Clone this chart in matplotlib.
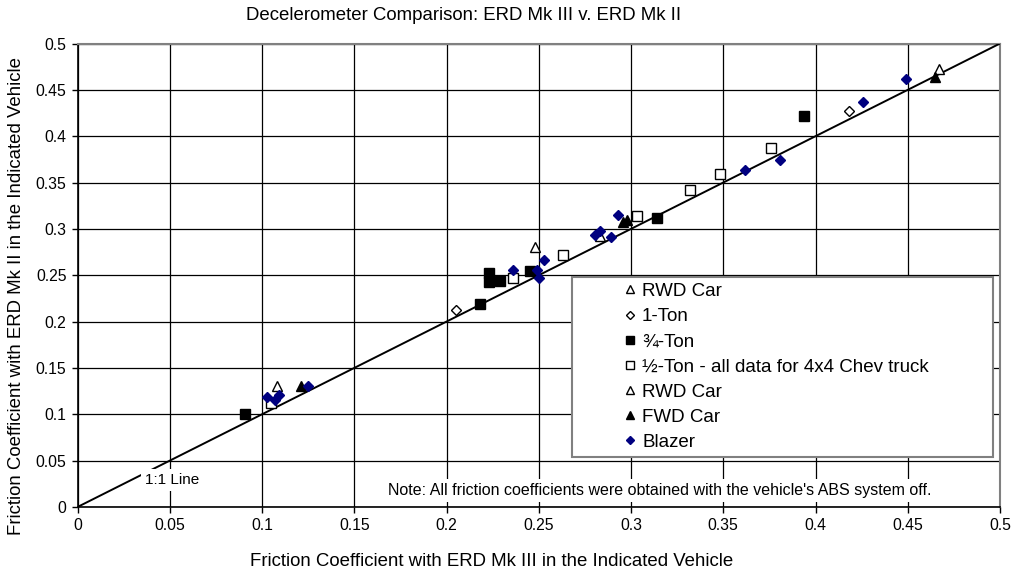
import matplotlib
matplotlib.use("Agg")
import matplotlib.pyplot as plt
from matplotlib.patches import Rectangle
from matplotlib.ticker import FuncFormatter

plt.rcParams['font.family'] = ['Liberation Sans', 'DejaVu Sans']

# ERD Mk III (x) vs ERD Mk II (y) friction coefficients
rwd1_x = [0.108, 0.248]
rwd1_y = [0.130, 0.280]

ton1_x = [0.205, 0.418]
ton1_y = [0.212, 0.427]

ton34_x = [0.091, 0.218, 0.223, 0.223, 0.229, 0.245, 0.314, 0.394]
ton34_y = [0.100, 0.219, 0.252, 0.243, 0.244, 0.255, 0.312, 0.422]

ton12_x = [0.105, 0.236, 0.263, 0.303, 0.332, 0.348, 0.376]
ton12_y = [0.112, 0.247, 0.272, 0.314, 0.342, 0.359, 0.387]

rwd2_x = [0.283, 0.467]
rwd2_y = [0.292, 0.472]

fwd_x = [0.121, 0.2955, 0.298, 0.465]
fwd_y = [0.131, 0.307, 0.310, 0.464]

blazer_x = [0.1025, 0.107, 0.109, 0.125, 0.236, 0.249, 0.250, 0.253,
            0.2805, 0.283, 0.289, 0.293, 0.362, 0.381, 0.426, 0.449]
blazer_y = [0.119, 0.115, 0.121, 0.130, 0.256, 0.256, 0.247, 0.266,
            0.293, 0.298, 0.291, 0.315, 0.364, 0.374, 0.437, 0.462]

ticks = [0, 0.05, 0.1, 0.15, 0.2, 0.25, 0.3, 0.35, 0.4, 0.45, 0.5]

fig = plt.figure(figsize=(10.15, 5.77), dpi=100)
ax = fig.add_axes([77.5 / 1015, 1 - 507 / 577, (1000 - 77.5) / 1015, (507 - 43.5) / 577])

ax.set_xlim(0, 0.5)
ax.set_ylim(0, 0.5)
ax.set_xticks(ticks)
ax.set_yticks(ticks)
fmt = FuncFormatter(lambda v, p: '{:g}'.format(round(v, 2)))
ax.xaxis.set_major_formatter(fmt)
ax.yaxis.set_major_formatter(fmt)
ax.tick_params(direction='out', length=4, width=1, labelsize=11.3, pad=4)
ax.grid(True, color='black', linewidth=0.9)
ax.set_axisbelow(True)
for s in ['top', 'right']:
    ax.spines[s].set_color('#808080')
    ax.spines[s].set_linewidth(1.5)
for s in ['bottom', 'left']:
    ax.spines[s].set_linewidth(1.2)

# 1:1 reference line
ax.axline((0, 0), slope=1, color='black', linewidth=1.4, zorder=3)
ax.text(0.0512, 0.0288, '1:1 Line', fontsize=11, ha='center', va='center',
        zorder=4, bbox=dict(facecolor='white', edgecolor='none', pad=3))

ms = dict(linestyle='none', markeredgewidth=1.0, zorder=5)
ax.plot(rwd1_x, rwd1_y, marker='^', markersize=7.5, markerfacecolor='white',
        markeredgecolor='black', label='RWD Car', **ms)
ax.plot(ton1_x, ton1_y, marker='D', markersize=4.6, markerfacecolor='white',
        markeredgecolor='black', label='1-Ton', **ms)
ax.plot(ton34_x, ton34_y, marker='s', markersize=7.5, markerfacecolor='black',
        markeredgecolor='black', label='¾-Ton', **ms)
ax.plot(ton12_x, ton12_y, marker='s', markersize=7, markerfacecolor='white',
        markeredgecolor='black', label='½-Ton - all data for 4x4 Chev truck', **ms)
ax.plot(rwd2_x, rwd2_y, marker='^', markersize=7.5, markerfacecolor='white',
        markeredgecolor='black', label='RWD Car', **ms)
ax.plot(fwd_x, fwd_y, marker='^', markersize=7.5, markerfacecolor='black',
        markeredgecolor='black', label='FWD Car', **ms)
ax.plot(blazer_x, blazer_y, marker='D', markersize=5.6, markerfacecolor='#000080',
        markeredgecolor='#000080', label='Blazer', **ms)

# legend box drawn over the grid
ax.add_patch(Rectangle((0.268, 0.0537), 0.2282, 0.1943, facecolor='white',
                       edgecolor='#808080', linewidth=1.5, zorder=2.5))
leg = ax.legend(loc='upper left', bbox_to_anchor=(0.585, 0.5), frameon=False,
                fontsize=13.5, handlelength=0.6, handletextpad=0.33,
                labelspacing=0.43, markerscale=0.8, borderaxespad=0)
leg.set_zorder(6)

ax.text(0.3157, 0.018,
        "Note: All friction coefficients were obtained with the vehicle's ABS system off.",
        fontsize=11.5, ha='center', va='center', zorder=4,
        bbox=dict(facecolor='white', edgecolor='none', pad=3))

fig.text(464 / 1015, 1 - 15 / 577, 'Decelerometer Comparison: ERD Mk III v. ERD Mk II',
         fontsize=13.4, ha='center', va='center')
fig.text(492 / 1015, 1 - 561 / 577, 'Friction Coefficient with ERD Mk III in the Indicated Vehicle',
         fontsize=13.4, ha='center', va='center')
fig.text(17 / 1015, 1 - 296 / 577, 'Friction Coefficient with ERD Mk II in the Indicated Vehicle',
         fontsize=13.4, ha='center', va='center', rotation=90)

fig.savefig('out.png', dpi=100)
